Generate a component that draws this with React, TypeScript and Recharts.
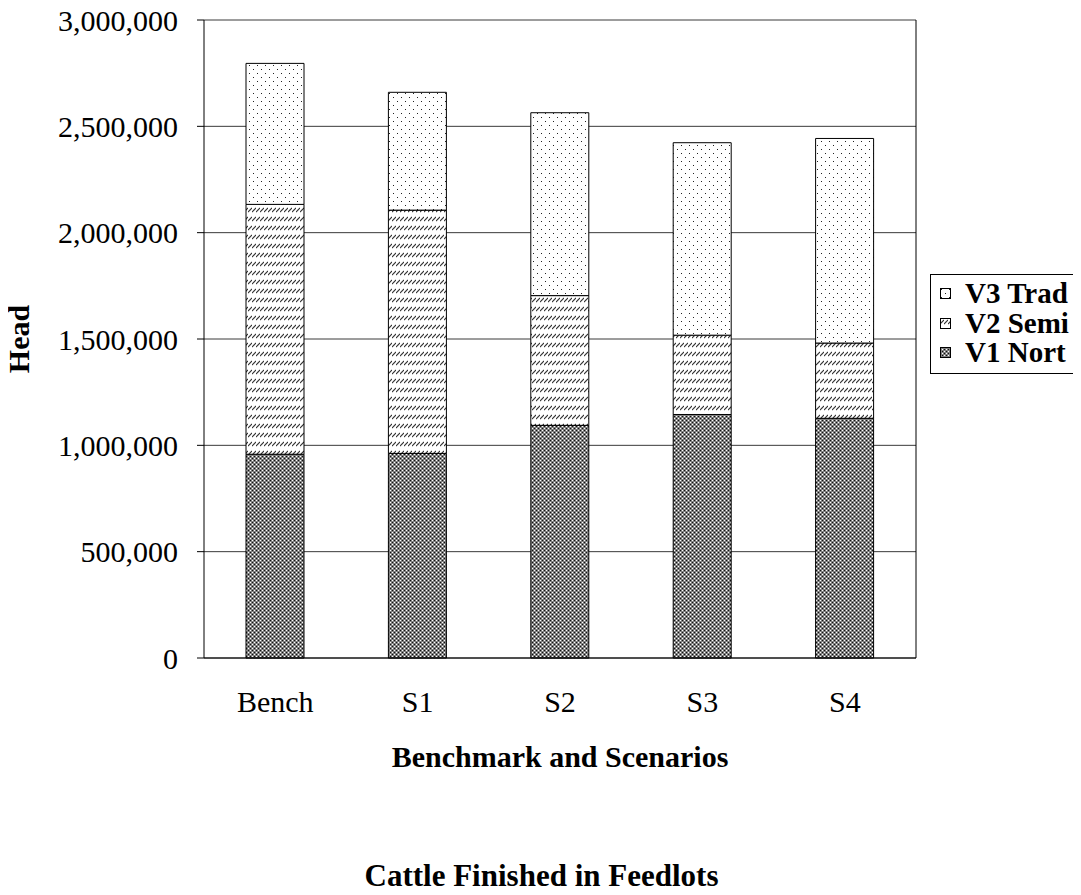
import React from 'react';
import { BarChart, Bar, XAxis, YAxis, CartesianGrid, Legend, Label } from 'recharts';

// Cattle finished in feedlots, by region type (head)
const categories = ['Bench', 'S1', 'S2', 'S3', 'S4'];
const v1Nort = [958000, 962000, 1094000, 1145000, 1127000];
const v2Semi = [1175000, 1144000, 610000, 373000, 354000];
const v3Trad = [663000, 554000, 860000, 905000, 962000];
const yTicks = [0, 500000, 1000000, 1500000, 2000000, 2500000, 3000000];
const boundaryTicks = [0, 1, 2, 3, 4, 5];

const data = categories.map((name, i) => ({
  name,
  v1: v1Nort[i],
  v2: v2Semi[i],
  v3: v3Trad[i],
}));

const legendItems = [
  { label: 'V3 Trad', fill: 'url(#pat-trad)' },
  { label: 'V2 Semi', fill: 'url(#pat-semi)' },
  { label: 'V1 Nort', fill: 'url(#pat-nort)' },
];

const SERIF = '"Liberation Serif", "Times New Roman", serif';
const W = 1073;
const H = 887;

const fmt = (v: number) => v.toLocaleString('en-US');

const LegendBox = () => (
  <div
    style={{
      width: 151,
      boxSizing: 'border-box',
      border: '1px solid #000',
      borderRight: 'none',
      background: '#fff',
      padding: '4px 0 5px 9px',
      fontFamily: SERIF,
      fontWeight: 'bold',
      fontSize: 29,
      lineHeight: '29.5px',
      color: '#000',
      whiteSpace: 'nowrap',
    }}
  >
    {legendItems.map((it) => (
      <div key={it.label} style={{ display: 'flex', alignItems: 'center', height: 29.5 }}>
        <svg width={11} height={11} style={{ marginRight: 14, flex: 'none' }}>
          <rect x={0.5} y={0.5} width={10} height={10} fill={it.fill} stroke="#000" strokeWidth={1} />
        </svg>
        <span>{it.label}</span>
      </div>
    ))}
  </div>
);

export default function App() {
  return (
    <div style={{ width: W, height: H, marginBottom: -8 }}>
      <style>{'.recharts-surface { overflow: visible; }'}</style>
      <BarChart
        width={W}
        height={H}
        data={data}
        margin={{ top: 12, right: 164, bottom: 0, left: 0 }}
        barSize={58}
      >
        <defs>
          <pattern id="pat-trad" patternUnits="userSpaceOnUse" width={8} height={8}>
            <rect width={8} height={8} fill="#fff" />
            <rect x={1} y={1} width={1} height={1} fill="#222" />
            <rect x={5} y={5} width={1} height={1} fill="#222" />
          </pattern>
          <pattern id="pat-semi" patternUnits="userSpaceOnUse" width={4} height={9}>
            <rect width={4} height={9} fill="#fff" />
            <path d="M0,6 L4,2" stroke="#333" strokeWidth={1.1} />
          </pattern>
          <pattern id="pat-nort" patternUnits="userSpaceOnUse" width={4} height={4}>
            <rect width={4} height={4} fill="#808080" />
            <rect x={0} y={0} width={1} height={1} fill="#fff" />
            <rect x={2} y={2} width={1} height={1} fill="#fff" />
            <rect x={2} y={0} width={1} height={1} fill="#111" />
            <rect x={0} y={2} width={1} height={1} fill="#111" />
          </pattern>
        </defs>
        <CartesianGrid vertical={false} stroke="#3a3a3a" strokeWidth={1} />
        <XAxis
          xAxisId="bounds"
          type="number"
          domain={[0, 5]}
          allowDataOverflow
          ticks={boundaryTicks}
          tick={false}
          tickSize={10}
          tickLine={{ stroke: '#000' }}
          axisLine={{ stroke: '#000' }}
          height={1}
        />
        <XAxis
          xAxisId="cat"
          dataKey="name"
          height={236}
          axisLine={false}
          tickLine={false}
          tickSize={0}
          tickMargin={32}
          interval={0}
          tick={{ fontSize: 30, fontFamily: SERIF, fill: '#000' }}
        >
          <Label
            content={(props: any) => {
              const vb = props.viewBox || {};
              return (
                <g>
                  <text
                    x={vb.x + vb.width / 2}
                    y={vb.y + 108}
                    textAnchor="middle"
                    fontFamily={SERIF}
                    fontWeight="bold"
                    fontSize={30}
                    fill="#000"
                  >
                    Benchmark and Scenarios
                  </text>
                  <text
                    x={W / 2 - 3}
                    y={vb.y + 227}
                    textAnchor="middle"
                    fontFamily={SERIF}
                    fontWeight="bold"
                    fontSize={31}
                    fill="#000"
                  >
                    Cattle Finished in Feedlots
                  </text>
                </g>
              );
            }}
          />
        </XAxis>
        <YAxis
          width={196}
          domain={[0, 3000000]}
          ticks={yTicks}
          interval={0}
          tickFormatter={fmt}
          tickSize={7}
          tickMargin={19}
          tickLine={{ stroke: '#000' }}
          axisLine={{ stroke: '#000' }}
          tick={{ fontSize: 30, fontFamily: SERIF, fill: '#000' }}
        >
          <Label
            content={(props: any) => {
              const vb = props.viewBox || {};
              const cx = vb.x + 21;
              const cy = vb.y + vb.height / 2;
              return (
                <text
                  x={cx}
                  y={cy}
                  transform={`rotate(-90, ${cx}, ${cy})`}
                  textAnchor="middle"
                  fontFamily={SERIF}
                  fontWeight="bold"
                  fontSize={30}
                  fill="#000"
                >
                  Head
                </text>
              );
            }}
          />
        </YAxis>
        <YAxis
          yAxisId="frame"
          orientation="right"
          width={1}
          domain={[0, 3000000]}
          tick={false}
          tickLine={false}
          axisLine={{ stroke: '#000' }}
        />
        <Legend
          layout="vertical"
          align="center"
          verticalAlign="middle"
          content={() => <LegendBox />}
          wrapperStyle={{ left: 922, top: 266, width: 151, height: 100, overflow: 'hidden' }}
        />
        <Bar xAxisId="cat" dataKey="v1" name="V1 Nort" stackId="a" fill="url(#pat-nort)" stroke="#000" strokeWidth={1} isAnimationActive={false} />
        <Bar xAxisId="cat" dataKey="v2" name="V2 Semi" stackId="a" fill="url(#pat-semi)" stroke="#000" strokeWidth={1} isAnimationActive={false} />
        <Bar xAxisId="cat" dataKey="v3" name="V3 Trad" stackId="a" fill="url(#pat-trad)" stroke="#000" strokeWidth={1} isAnimationActive={false} />
      </BarChart>
    </div>
  );
}
